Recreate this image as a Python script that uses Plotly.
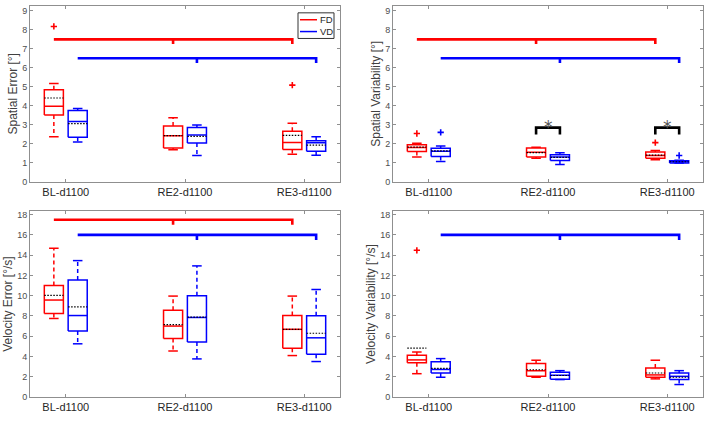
import plotly.graph_objects as go

# ---------------- data ----------------
categories = ["BL-d1100", "RE2-d1100", "RE3-d1100"]
group_names = ["FD", "VD"]
group_colors = ["#ff0000", "#0000ff"]
group_offsets = [-0.1, 0.1]

# Spatial Error [°]
se_fd = dict(lo=[2.37, 1.68, 1.45], q1=[3.51, 1.78, 1.69], med=[3.98, 2.42, 2.06],
             mean=[4.41, 2.43, 2.44], q3=[4.84, 2.94, 2.66], hi=[5.17, 3.37, 3.08])
se_vd = dict(lo=[2.09, 1.38, 1.40], q1=[2.34, 2.04, 1.61], med=[3.17, 2.46, 2.05],
             mean=[3.06, 2.39, 1.93], q3=[3.75, 2.85, 2.16], hi=[3.86, 2.99, 2.37])
se_fd_out_cat = ["BL-d1100", "RE3-d1100"]
se_fd_out_val = [8.18, 5.09]
se_vd_out_cat = []
se_vd_out_val = []
se_bracket_y = [7.5, 6.5]

# Spatial Variability [°]
sv_fd = dict(lo=[1.30, 1.24, 1.16], q1=[1.59, 1.30, 1.23], med=[1.80, 1.55, 1.38],
             mean=[1.82, 1.53, 1.40], q3=[1.95, 1.78, 1.56], hi=[2.02, 1.82, 1.65])
sv_vd = dict(lo=[1.07, 0.91, 0.98], q1=[1.33, 1.12, 0.99], med=[1.61, 1.30, 1.05],
             mean=[1.62, 1.28, 1.05], q3=[1.76, 1.42, 1.11], hi=[1.88, 1.52, 1.13])
sv_fd_out_cat = ["BL-d1100", "RE3-d1100"]
sv_fd_out_val = [2.54, 2.06]
sv_vd_out_cat = ["BL-d1100", "RE3-d1100"]
sv_vd_out_val = [2.60, 1.38]
sv_bracket_y = [7.5, 6.5]
sv_pair_cats = ["RE2-d1100", "RE3-d1100"]
sv_pair_y = [2.85, 2.85]

# Velocity Error [°/s]
ve_fd = dict(lo=[7.75, 4.54, 4.09], q1=[8.24, 5.77, 4.80], med=[9.57, 7.00, 6.68],
             mean=[10.02, 7.14, 6.68], q3=[11.00, 8.56, 8.04], hi=[14.69, 9.96, 9.96])
ve_vd = dict(lo=[5.25, 3.76, 3.50], q1=[6.52, 5.42, 4.22], med=[8.04, 7.85, 5.84],
             mean=[8.89, 7.88, 6.29], q3=[11.55, 9.99, 8.01], hi=[13.46, 12.94, 10.61])
ve_fd_out_cat = []
ve_fd_out_val = []
ve_vd_out_cat = []
ve_vd_out_val = []
ve_bracket_y = [17.5, 16.0]

# Velocity Variability [°/s]
vv_fd = dict(lo=[2.30, 1.95, 1.79], q1=[3.37, 2.04, 1.95], med=[3.66, 2.59, 2.18],
             mean=[4.83, 2.69, 2.37], q3=[4.12, 3.31, 2.86], hi=[4.44, 3.63, 3.63])
vv_vd = dict(lo=[1.95, 1.72, 1.23], q1=[2.37, 1.75, 1.72], med=[2.72, 2.15, 2.04],
             mean=[2.82, 2.12, 1.95], q3=[3.47, 2.45, 2.37], hi=[3.79, 2.60, 2.60])
vv_fd_out_cat = ["BL-d1100"]
vv_fd_out_val = [14.48]
vv_vd_out_cat = []
vv_vd_out_val = []
vv_bracket_y = [None, 16.0]

y_titles = ["Spatial Error [°]", "Spatial Variability [°]",
            "Velocity Error [°/s]", "Velocity Variability [°/s]"]
top_ticks = list(range(0, 10))
bottom_ticks = list(range(0, 19, 2))

# ---------------- drawing ----------------
W, H = 708, 423
FONT = "Liberation Sans, Arial, sans-serif"
box_w = 0.16
cap_w = 0.08
cat_pos = {c: i + 1 for i, c in enumerate(categories)}

fig = go.Figure()


def xpos(cat, g):
    return cat_pos[cat] + group_offsets[g]


def add_panel(k, stats, outs, bracket_y, ymax, pair_cats=None, pair_y=None):
    xa = "x" if k == 1 else f"x{k}"
    ya = "y" if k == 1 else f"y{k}"
    tl = 0.027 * ymax
    # significance brackets (group across conditions)
    for g, by in enumerate(bracket_y):
        if by is None:
            continue
        x0 = xpos(categories[0], g)
        x1 = xpos(categories[1], g)
        x2 = xpos(categories[2], g)
        fig.add_trace(go.Scatter(
            x=[x0, x2, x2, None, x1, x1], y=[by, by, by - tl, None, by, by - tl],
            mode="lines", line=dict(color=group_colors[g], width=2.6),
            xaxis=xa, yaxis=ya, hoverinfo="skip", showlegend=False))
    if pair_cats:
        for c, py in zip(pair_cats, pair_y):
            xf, xv = xpos(c, 0), xpos(c, 1)
            d = 0.36
            fig.add_trace(go.Scatter(
                x=[xf, xf, xv, xv], y=[py - d, py, py, py - d], mode="lines",
                line=dict(color="black", width=2.6), xaxis=xa, yaxis=ya,
                hoverinfo="skip", showlegend=False))
            fig.add_annotation(x=(xf + xv) / 2, y=py + 0.05, xref=xa, yref=ya,
                               text="*", showarrow=False, yanchor="middle",
                               font=dict(family="DejaVu Sans, sans-serif", size=17,
                                         color="#555555"))
    for g, s in enumerate(stats):
        col = group_colors[g]
        wx, wy, bx, by_, mx, my = [], [], [], [], [], []
        for i, c in enumerate(categories):
            p = xpos(c, g)
            l, r = p - box_w / 2, p + box_w / 2
            cl, cr = p - cap_w / 2, p + cap_w / 2
            # whiskers (dashed)
            wx += [p, p, None, p, p, None]
            wy += [s["q3"][i], s["hi"][i], None, s["q1"][i], s["lo"][i], None]
            # box, median, caps (solid)
            bx += [l, r, r, l, l, None, l, r, None, cl, cr, None, cl, cr, None]
            by_ += [s["q1"][i], s["q1"][i], s["q3"][i], s["q3"][i], s["q1"][i], None,
                    s["med"][i], s["med"][i], None, s["hi"][i], s["hi"][i], None,
                    s["lo"][i], s["lo"][i], None]
            # mean (dotted black)
            mx += [l, r, None]
            my += [s["mean"][i], s["mean"][i], None]
        fig.add_trace(go.Scatter(x=wx, y=wy, mode="lines",
                                 line=dict(color=col, width=1.5, dash="4px,3px"),
                                 xaxis=xa, yaxis=ya, hoverinfo="skip", showlegend=False))
        fig.add_trace(go.Scatter(x=bx, y=by_, mode="lines",
                                 line=dict(color=col, width=1.5),
                                 xaxis=xa, yaxis=ya, hoverinfo="skip", showlegend=False))
        fig.add_trace(go.Scatter(x=mx, y=my, mode="lines",
                                 line=dict(color="black", width=1.2, dash="1.5px,1.5px"),
                                 xaxis=xa, yaxis=ya, hoverinfo="skip", showlegend=False))
        oc, ov = outs[g]
        if oc:
            fig.add_trace(go.Scatter(x=[xpos(c, g) for c in oc], y=ov, mode="markers",
                                     marker=dict(symbol="cross-thin", size=4.5, color=col,
                                                 line=dict(color=col, width=1.6)),
                                     xaxis=xa, yaxis=ya, hoverinfo="skip", showlegend=False))


TOP_MAX, BOT_MAX = 9.26, 18.33
add_panel(1, [se_fd, se_vd], [(se_fd_out_cat, se_fd_out_val), (se_vd_out_cat, se_vd_out_val)],
          se_bracket_y, TOP_MAX)
add_panel(2, [sv_fd, sv_vd], [(sv_fd_out_cat, sv_fd_out_val), (sv_vd_out_cat, sv_vd_out_val)],
          sv_bracket_y, TOP_MAX, sv_pair_cats, sv_pair_y)
add_panel(3, [ve_fd, ve_vd], [(ve_fd_out_cat, ve_fd_out_val), (ve_vd_out_cat, ve_vd_out_val)],
          ve_bracket_y, BOT_MAX)
add_panel(4, [vv_fd, vv_vd], [(vv_fd_out_cat, vv_fd_out_val), (vv_vd_out_cat, vv_vd_out_val)],
          vv_bracket_y, BOT_MAX)

left_dom = [30 / W, 340 / W]
right_dom = [393 / W, 703 / W]
top_dom = [1 - 183.3 / H, 1 - 5 / H]
bot_dom = [1 - 401.7 / H, 1 - 213.3 / H]

frame = "#8f8f8f"


def xaxis_cfg(dom, anchor):
    return dict(domain=dom, anchor=anchor, range=[0.7, 3.3], tickmode="array",
                tickvals=[cat_pos[c] for c in categories], ticktext=categories,
                ticks="inside", ticklen=3, tickcolor=frame, showline=True, linecolor=frame,
                linewidth=1, mirror="ticks", showgrid=False, zeroline=False,
                ticklabeloverflow="allow",
                tickfont=dict(family=FONT, size=11, color="#262626"))


def yaxis_cfg(dom, anchor, ymax, ticks, title):
    return dict(domain=dom, anchor=anchor, range=[0, ymax], tickmode="array",
                tickvals=ticks, ticks="inside", ticklen=3, tickcolor=frame,
                showline=True, linecolor=frame, linewidth=1, mirror="ticks",
                showgrid=False, zeroline=False,
                tickfont=dict(family=FONT, size=9, color="#4d4d4d"),
                title=dict(text=title, font=dict(family=FONT, size=12, color="#404040"),
                           standoff=1))


fig.update_layout(
    width=W, height=H, margin=dict(l=0, r=0, t=0, b=0),
    paper_bgcolor="white", plot_bgcolor="white", showlegend=False,
    xaxis=xaxis_cfg(left_dom, "y"), yaxis=yaxis_cfg(top_dom, "x", TOP_MAX, top_ticks, y_titles[0]),
    xaxis2=xaxis_cfg(right_dom, "y2"), yaxis2=yaxis_cfg(top_dom, "x2", TOP_MAX, top_ticks, y_titles[1]),
    xaxis3=xaxis_cfg(left_dom, "y3"), yaxis3=yaxis_cfg(bot_dom, "x3", BOT_MAX, bottom_ticks, y_titles[2]),
    xaxis4=xaxis_cfg(right_dom, "y4"), yaxis4=yaxis_cfg(bot_dom, "x4", BOT_MAX, bottom_ticks, y_titles[3]),
)

# legend (drawn inside the first axes)
lx0, lx1, ly0, ly1 = 298 / W, 334 / W, 1 - 38 / H, 1 - 12 / H
fig.add_shape(type="rect", xref="paper", yref="paper", x0=lx0, x1=lx1, y0=ly0, y1=ly1,
              line=dict(color="#333333", width=1), fillcolor="white", layer="above")
for g, name in enumerate(group_names):
    yy = 1 - (19 + 12 * g) / H
    fig.add_shape(type="line", xref="paper", yref="paper", x0=300 / W, x1=317 / W, y0=yy, y1=yy,
                  line=dict(color=group_colors[g], width=1.5), layer="above")
    fig.add_annotation(xref="paper", yref="paper", x=317.5 / W, y=yy, text=name, showarrow=False,
                       xanchor="left", yanchor="middle",
                       font=dict(family=FONT, size=9.5, color="#262626"))

fig.write_html("out.html", config={"displayModeBar": False},
               post_script="document.body.style.margin='0';document.body.style.overflow='hidden';")
